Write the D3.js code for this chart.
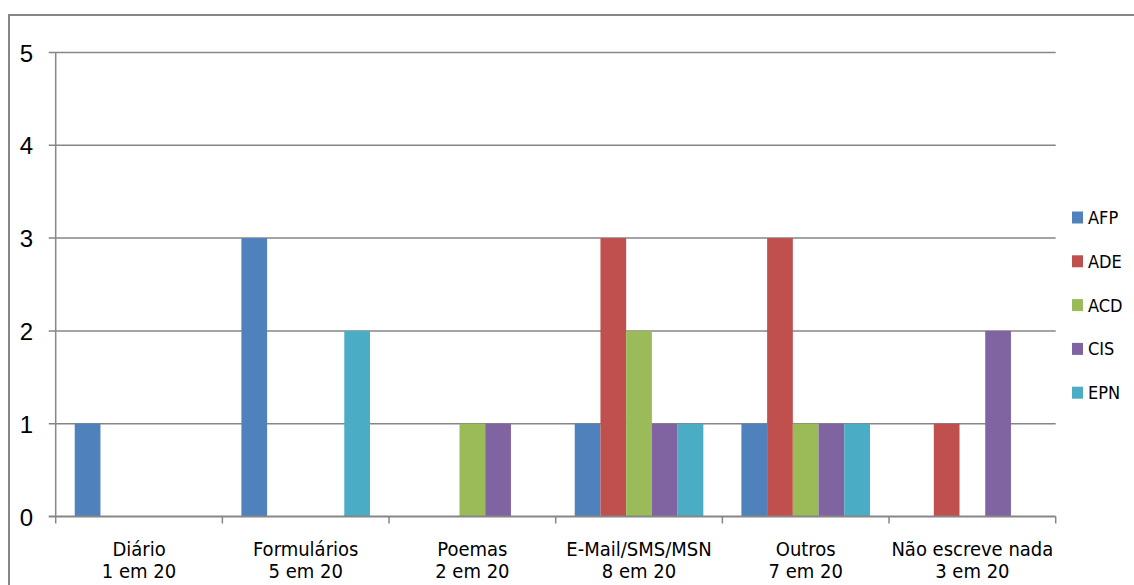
<!DOCTYPE html>
<html>
<head>
<meta charset="utf-8">
<script src="https://cdn.jsdelivr.net/npm/d3@7"></script>
<style>
  html, body { margin: 0; padding: 0; background: #fff; }
  svg { display: block; }
  .cat { font-family: "Liberation Sans Narrow", "DejaVu Sans Condensed", sans-serif; font-size: 20px; fill: #000; }
  .ytick { font-family: "Liberation Sans", "DejaVu Sans", sans-serif; font-size: 24px; font-weight: 300; fill: #000; }
  .leg { font-family: "Liberation Sans Narrow", "DejaVu Sans Condensed", sans-serif; font-size: 18px; fill: #000; }
</style>
</head>
<body>
<svg id="chart" width="1134" height="585"></svg>
<script>
// Writing activities per group
const categories = ["Diário", "Formulários", "Poemas", "E-Mail/SMS/MSN", "Outros", "Não escreve nada"];
const subLabels = ["1 em 20", "5 em 20", "2 em 20", "8 em 20", "7 em 20", "3 em 20"];
const seriesNames = ["AFP", "ADE", "ACD", "CIS", "EPN"];
const AFP = [1, 3, 0, 1, 1, 0];
const ADE = [0, 0, 0, 3, 3, 1];
const ACD = [0, 0, 1, 2, 1, 0];
const CIS = [0, 0, 1, 1, 1, 2];
const EPN = [0, 2, 0, 1, 1, 0];
const yTicks = [0, 1, 2, 3, 4, 5];

const seriesValues = [AFP, ADE, ACD, CIS, EPN];
const colors = ["#4f81bd", "#c0504d", "#9bbb59", "#8064a2", "#4bacc6"];

const svg = d3.select("#chart");
const grey = "#868686";

// outer frame
svg.append("rect")
  .attr("x", 9).attr("y", 15)
  .attr("width", 1200).attr("height", 700)
  .attr("fill", "none").attr("stroke", grey).attr("stroke-width", 2);

const plotLeft = 55.7, plotRight = 1055.7, plotTop = 52.5, plotBottom = 516.5;

const x0 = d3.scaleBand().domain(categories).range([plotLeft, plotRight]).padding(0);
const x1 = d3.scaleBand().domain(seriesNames).range([0, x0.bandwidth()])
  .paddingInner(0).paddingOuter(0.74);
const y = d3.scaleLinear().domain([0, 5]).range([plotBottom, plotTop]);

// horizontal gridlines (with outward tick)
svg.append("g").selectAll("line").data(yTicks.filter(d => d > 0)).join("line")
  .attr("x1", plotLeft - 7).attr("x2", plotRight)
  .attr("y1", d => y(d)).attr("y2", d => y(d))
  .attr("stroke", grey).attr("stroke-width", 1.5);

// bars
const rows = [];
seriesNames.forEach((s, si) => {
  categories.forEach((c, ci) => {
    rows.push({ s, c, v: seriesValues[si][ci], color: colors[si] });
  });
});
svg.append("g").selectAll("rect").data(rows.filter(d => d.v > 0)).join("rect")
  .attr("x", d => x0(d.c) + x1(d.s))
  .attr("width", x1.bandwidth())
  .attr("y", d => y(d.v))
  .attr("height", d => y(0) - y(d.v))
  .attr("fill", d => d.color);

// y axis line
svg.append("line")
  .attr("x1", plotLeft).attr("x2", plotLeft)
  .attr("y1", plotTop).attr("y2", plotBottom)
  .attr("stroke", grey).attr("stroke-width", 1.5);

// x axis line and category ticks
svg.append("line")
  .attr("x1", plotLeft - 7).attr("x2", plotRight)
  .attr("y1", plotBottom).attr("y2", plotBottom)
  .attr("stroke", grey).attr("stroke-width", 2);
const bounds = categories.map(c => x0(c)).concat([plotRight]);
svg.append("g").selectAll("line").data(bounds).join("line")
  .attr("x1", d => d).attr("x2", d => d)
  .attr("y1", plotBottom).attr("y2", plotBottom + 7)
  .attr("stroke", grey).attr("stroke-width", 1.5);

// y tick labels
svg.append("g").selectAll("text").data(yTicks).join("text")
  .attr("class", "ytick")
  .attr("x", 33).attr("y", d => y(d) + 9)
  .attr("text-anchor", "end")
  .text(d => d);

// category labels, two lines
const catG = svg.append("g").selectAll("text").data(categories).join("text")
  .attr("class", "cat")
  .attr("text-anchor", "middle")
  .attr("x", d => x0(d) + x0.bandwidth() / 2)
  .attr("y", 556);
catG.append("tspan").text(d => d);
catG.append("tspan")
  .attr("x", d => x0(d) + x0.bandwidth() / 2)
  .attr("dy", 22)
  .text((d, i) => subLabels[i]);

// legend
const leg = svg.append("g").selectAll("g").data(seriesNames).join("g")
  .attr("transform", (d, i) => `translate(1072, ${217.5 + i * 43.8})`);
leg.append("rect")
  .attr("x", 0).attr("y", -6)
  .attr("width", 11).attr("height", 12)
  .attr("fill", (d, i) => colors[i]);
leg.append("text")
  .attr("class", "leg")
  .attr("x", 16).attr("y", 6.5)
  .text(d => d);
</script>
</body>
</html>
